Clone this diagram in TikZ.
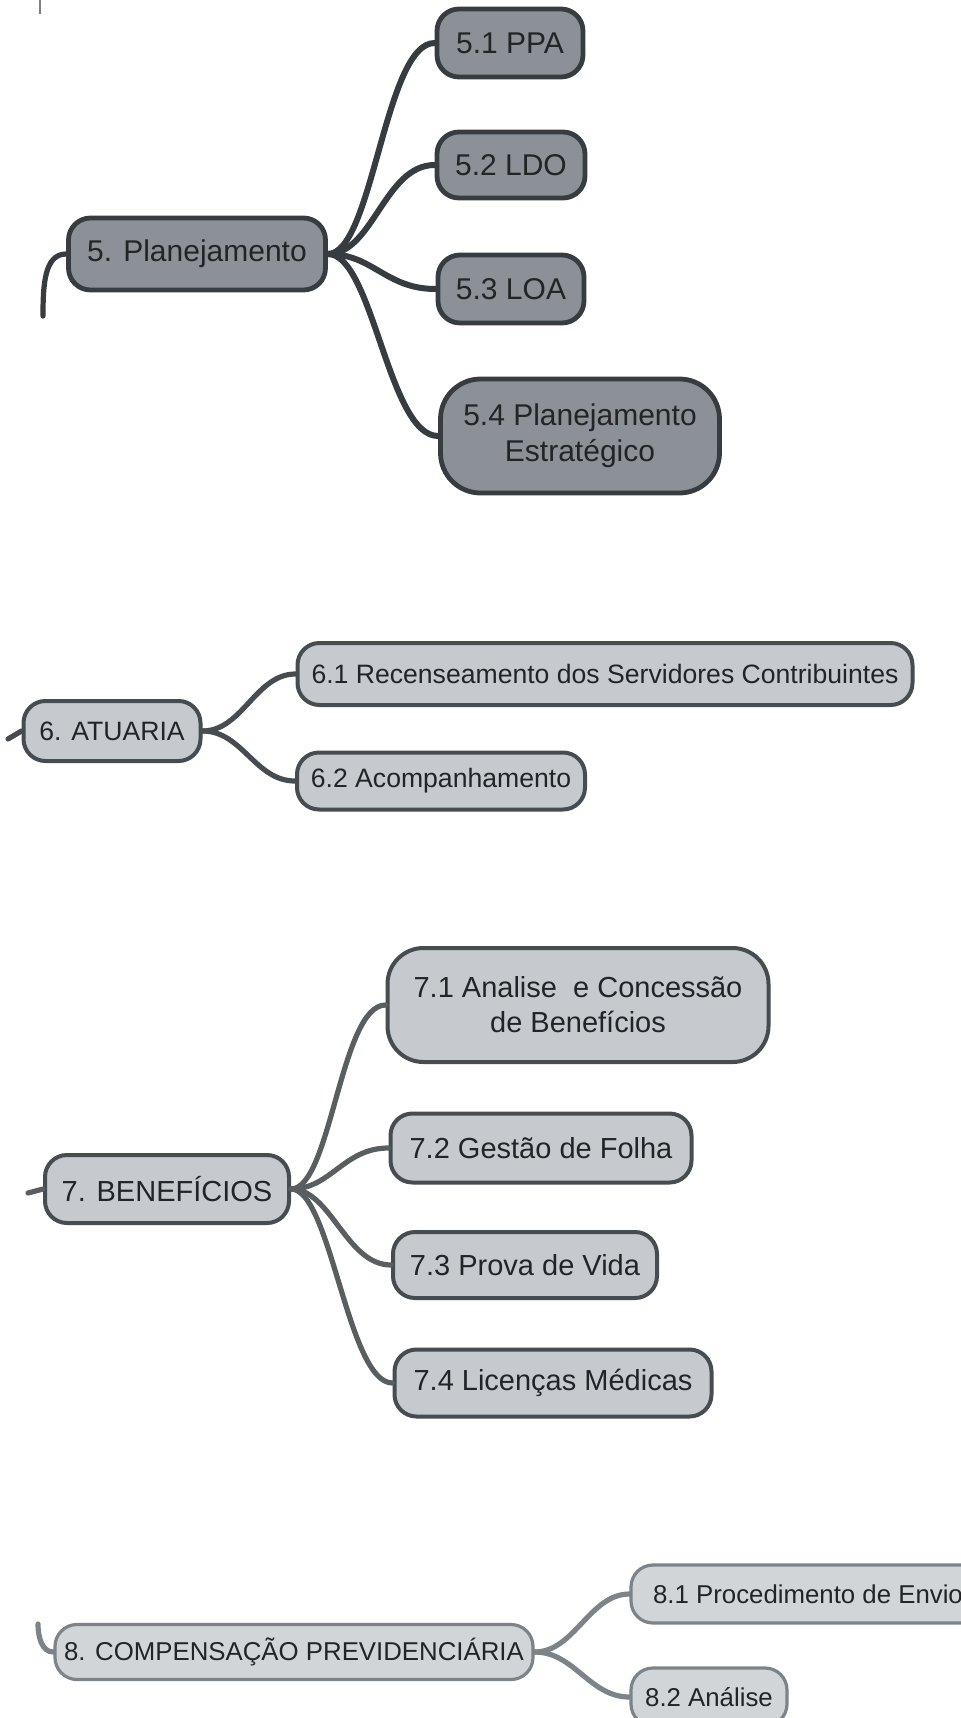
\documentclass[tikz,border=0pt]{standalone}
\usepackage{fontspec}
\setmainfont{Liberation Sans}
\definecolor{txt}{RGB}{34,36,38}
\definecolor{darkfill}{RGB}{140,145,151}
\definecolor{darkline}{RGB}{54,60,64}
\definecolor{lightfill}{RGB}{198,202,206}
\definecolor{lightline}{RGB}{70,76,80}
\definecolor{paleline}{RGB}{124,131,137}
\begin{document}
\begin{tikzpicture}[x=0.5pt, y=-0.5pt,
    topic/.style={draw, rounded corners=11pt, inner sep=0pt, align=center, text=txt},
    plantopic/.style={topic, fill=darkfill, draw=darkline, line width=2.4pt, font=\fontsize{15}{18}\selectfont},
    atutopic/.style={topic, fill=lightfill, draw=lightline, line width=2pt, font=\fontsize{13.3}{16}\selectfont},
    bentopic/.style={topic, fill=lightfill, draw=lightline, line width=2pt, font=\fontsize{14.5}{17.5}\selectfont},
    comptopic/.style={topic, fill=lightfill!80!white, draw=paleline, line width=1.6pt, font=\fontsize{12.9}{15.5}\selectfont},
    branch/.style={line width=2.6pt, line cap=round}]
  \path[use as bounding box, fill=white] (0,0) rectangle (960,1718);

  % 5. Planejamento
  \begin{scope}
    \node[plantopic, minimum width=128.5pt, minimum height=36pt] (plan) at (197,254) {5. Planejamento};
    \node[plantopic, minimum width=73pt, minimum height=34pt] (ppa) at (510,43) {5.1 PPA};
    \node[plantopic, minimum width=74pt, minimum height=33pt] (ldo) at (511,165) {5.2 LDO};
    \node[plantopic, minimum width=73pt, minimum height=34pt] (loa) at (511,289) {5.3 LOA};
    \node[plantopic, minimum width=139.5pt, minimum height=57pt, rounded corners=20pt] (pe) at (580,436) {5.4 Planejamento\\Estratégico};

    \foreach \c in {ppa,ldo,loa,pe} {
      \draw[branch, draw=darkline, line width=3pt] (plan.east) .. controls +(45,0) and +(-50,0) .. (\c.west);
    }

    % stub to the trunk on the left
    \coordinate (top5) at (40,0);
    \coordinate (topend5) at (40,14);
    \coordinate (stub5) at (43,316);
    \draw[gray, line width=0.8pt] (top5) -- (topend5);
    \draw[branch, draw=darkline] (plan.west) .. controls +(-22,0) and +(0,-30) .. (stub5);
  \end{scope}

  % 6. ATUARIA
  \begin{scope}
    \node[atutopic, minimum width=88.5pt, minimum height=30pt] (atu) at (112,731) {6. ATUARIA};
    \node[atutopic, minimum width=307.5pt, minimum height=31pt] (rec) at (605,674) {6.1 Recenseamento dos Servidores Contribuintes};
    \node[atutopic, minimum width=144pt, minimum height=28.5pt] (aco) at (441,781) {6.2 Acompanhamento};

    \foreach \c in {rec,aco} {
      \draw[branch, draw=lightline] (atu.east) .. controls +(40,0) and +(-40,0) .. (\c.west);
    }

    \coordinate (stub6) at (8,739);
    \draw[branch, draw=lightline] (atu.west) -- (stub6);
  \end{scope}

  % 7. BENEFICIOS
  \begin{scope}
    \node[bentopic, minimum width=122pt, minimum height=34pt] (ben) at (167,1189) {7. BENEFÍCIOS};
    \node[bentopic, minimum width=190.5pt, minimum height=57pt, rounded corners=18pt] (anl) at (578,1005) {7.1 Analise\ \ e Concessão\\de Benefícios};
    \node[bentopic, minimum width=150.5pt, minimum height=34.5pt] (fol) at (541,1148) {7.2 Gestão de Folha};
    \node[bentopic, minimum width=132pt, minimum height=33pt] (pro) at (525,1265) {7.3 Prova de Vida};
    \node[bentopic, minimum width=158.5pt, minimum height=33.5pt] (lic) at (553,1383) {7.4 Licenças Médicas};

    \foreach \c in {anl,fol,pro,lic} {
      \draw[branch, draw=lightline!90!white] (ben.east) .. controls +(40,0) and +(-45,0) .. (\c.west);
    }

    \coordinate (stub7) at (28,1193);
    \draw[branch, draw=lightline!90!white] (ben.west) -- (stub7);
  \end{scope}

  % 8. COMPENSACAO PREVIDENCIARIA
  \begin{scope}
    \node[comptopic, minimum width=239pt, minimum height=27.5pt] (comp) at (294,1652) {8. COMPENSAÇÃO PREVIDENCIÁRIA};
    \node[comptopic, minimum width=177pt, minimum height=29pt] (env) at (808,1594) {8.1 Procedimento de Envio};
    \node[comptopic, minimum width=78pt, minimum height=29pt] (ana) at (709,1697) {8.2 Análise};

    \foreach \c in {env,ana} {
      \draw[branch, draw=paleline] (comp.east) .. controls +(40,0) and +(-40,0) .. (\c.west);
    }

    \coordinate (stub8) at (38,1624);
    \draw[branch, draw=paleline] (comp.west) .. controls +(-12,0) and +(0,12) .. (stub8);
  \end{scope}
\end{tikzpicture}
\end{document}
